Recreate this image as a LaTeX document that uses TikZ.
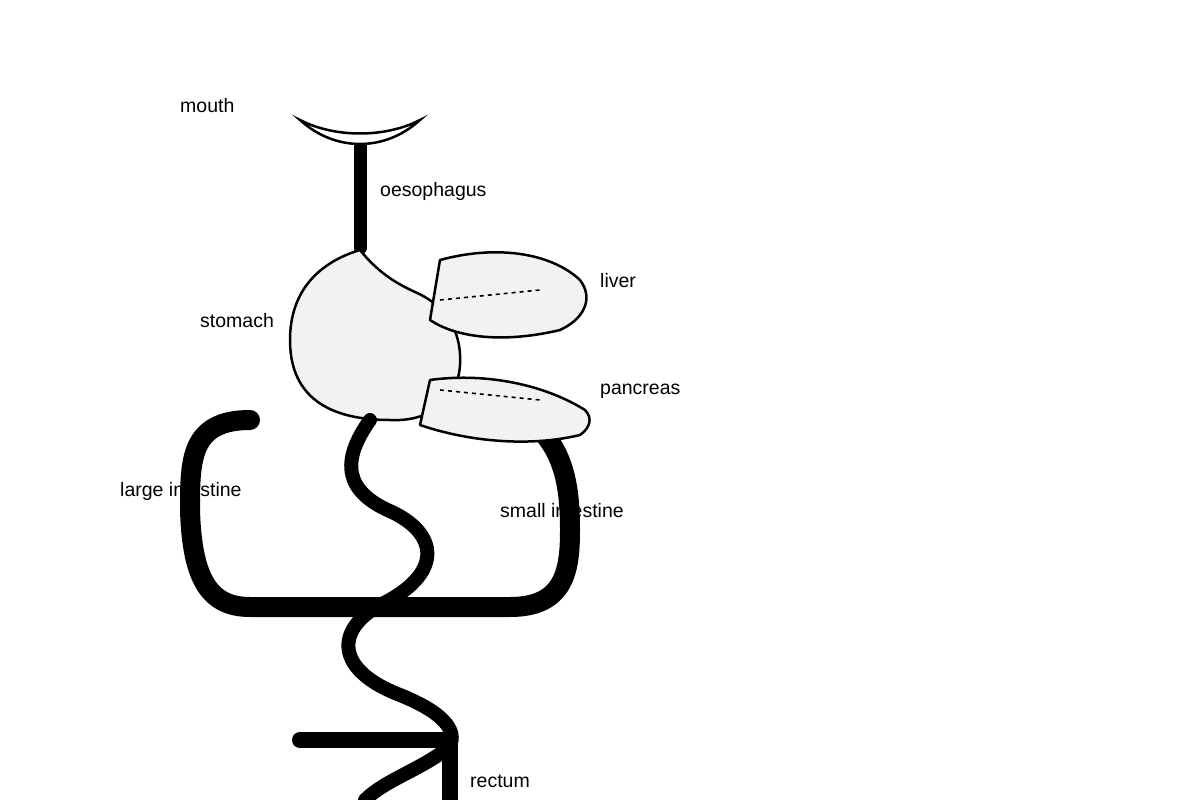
\documentclass[tikz,border=0pt]{standalone}
\usepackage{fontspec}
\setmainfont{Liberation Sans}
\begin{document}
\begin{tikzpicture}[x=1pt,y=-1pt,
  lbl/.style={anchor=west,inner sep=0pt,font=\fontsize{19.5}{22}\selectfont},
  organ/.style={draw=black,line width=2.5pt,fill=black!5,line join=round},
  tube/.style={line width=20pt,line cap=round,line join=round},
  gut/.style={line width=14pt,line cap=round},
  dotline/.style={line width=1.6pt,dash pattern=on 4pt off 4pt}]
\useasboundingbox (0,0) rectangle (1200,800);
\node[lbl] (tmouth) at (180,106) {mouth};
\node[lbl] (toes) at (380,191) {oesophagus};
\node[lbl] (tliver) at (600,281) {liver};
\node[lbl] (tstom) at (200,321) {stomach};
\node[lbl] (tpanc) at (600,391) {pancreas};
\node[lbl] (tlarge) at (120,491) {large intestine};
\node[lbl] (tsmall) at (500,511) {small intestine};
\node[lbl] (trect) at (470,781) {rectum};
% oesophagus
\draw[line width=13pt,line cap=round] (360,140) -- (360,248);
% mouth
\draw[line width=2.5pt,fill=white] (300,120) .. controls (335,152) and (385,152) .. (420,120) .. controls (385,138) and (335,138) .. (300,120) -- cycle;
% stomach
\draw[organ] (360,250) .. controls (380,275) and (400,285) .. (415,292) .. controls (445,305) and (462,330) .. (460,365) .. controls (458,400) and (430,422) .. (390,420) .. controls (320,420) and (290,390) .. (290,340) .. controls (290,290) and (320,262) .. (360,250) -- cycle;
% large intestine
\draw[tube] (250,420) .. controls (190,420) and (190,460) .. (190,510) .. controls (192,580) and (210,607) .. (250,607) -- (510,607) .. controls (565,607) and (570,570) .. (570,530) .. controls (570,490) and (565,460) .. (545,435);
% small intestine wiggle
\draw[gut] (370,420) .. controls (340,462) and (345,492) .. (392,512) .. controls (440,535) and (442,575) .. (380,605) .. controls (335,630) and (335,670) .. (400,695) .. controls (450,715) and (458,735) .. (448,748) .. controls (420,770) and (385,780) .. (365,800);
% rectum
\draw[line width=16pt,line cap=round] (300,740) -- (445,740);
\draw[line width=16pt] (450,740) -- (450,805);
% liver
\draw[organ] (440,260) .. controls (495,245) and (550,252) .. (580,280) .. controls (595,300) and (582,320) .. (560,330) .. controls (510,342) and (460,340) .. (430,320) -- cycle;
\draw[dotline] (440,300) -- (540,290);
% pancreas
\draw[organ] (430,380) .. controls (480,373) and (540,382) .. (585,410) .. controls (593,418) and (590,428) .. (580,435) .. controls (530,447) and (470,442) .. (420,425) -- cycle;
\draw[dotline] (440,390) -- (540,400);
\end{tikzpicture}
\end{document}
